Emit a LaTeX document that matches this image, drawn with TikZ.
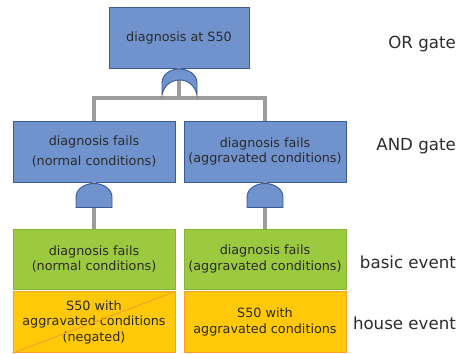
\documentclass[tikz,border=0pt]{standalone}
\usepackage{fontspec}
\setmainfont{DejaVu Sans}
\usetikzlibrary{calc}
\definecolor{blau}{HTML}{7093CD}
\definecolor{blaud}{HTML}{3A5A9C}
\definecolor{gruen}{HTML}{9BC93F}
\definecolor{gruend}{HTML}{86B236}
\definecolor{gelb}{HTML}{FFC90A}
\definecolor{gelbd}{HTML}{F5A02C}
\definecolor{grau}{HTML}{9C9C9C}
\definecolor{schrift}{HTML}{2B2B2B}
\tikzset{
  box/.style={line width=0.8pt,minimum width=4.86cm,minimum height=1.83cm,inner sep=0pt,align=center,text=schrift,font=\fontsize{10.9}{13.4}\selectfont},
  gatter/.style={box,fill=blau,draw=blaud},
  basis/.style={box,fill=gruen,draw=gruend},
  haus/.style={box,fill=gelb,draw=gelbd},
  tor/.style={fill=blau,draw=blaud,line width=0.8pt},
  leitung/.style={draw=grau,line width=3.2pt},
  lab/.style={anchor=east,text=schrift,font=\fontsize{14.2}{17}\selectfont},
}

\begin{document}
\begin{tikzpicture}[x=0.03cm,y=-0.03cm]
  \useasboundingbox (0,0) rectangle (465,353);
  % boxes
  \node[gatter,minimum width=4.2cm] (top) at (179,37.5) {diagnosis at S50};
  \node[gatter] (andl) at (94,151.5) {diagnosis fails\\[3.7pt](normal conditions)};
  \node[gatter] (andr) at (265,151.5) {diagnosis fails\\(aggravated conditions)};
  \node[basis,minimum height=1.8cm] (basl) at (94,259) {diagnosis fails\\(normal conditions)};
  \node[basis,minimum height=1.8cm] (basr) at (265,259) {diagnosis fails\\(aggravated conditions)};
  \node[haus] (hausl) at (94,322.3) {S50 with\\aggravated conditions\\(negated)};
  \node[haus] (hausr) at (265,322.3) {S50 with\\aggravated conditions};
  \draw[gelbd,line width=0.8pt] (hausl.south west) -- (hausl.north east);
  % connectors
  \coordinate (bus) at (179,98);
  \draw[leitung] (top.south) -- (bus);
  \draw[leitung] (andl.north) |- (bus) -| (andr.north);
  \draw[leitung] (andl.south) -- (basl.north);
  \draw[leitung] (andr.south) -- (basr.north);
  % gates
  \draw[tor,shift={(179,95)}] (-17,0) -- (-17,-12) to[out=90,in=180] (0,-26) to[out=0,in=90] (18,-12) -- (18,0) .. controls (14,-20) and (-13,-20) .. cycle;
  \foreach \n in {andl,andr}
    \draw[tor,shift={($(\n.south)+(0,25)$)}] (-18,0) -- (-18,-10) to[out=90,in=180] (0,-24) to[out=0,in=90] (18,-10) -- (18,0) -- cycle;
  % labels
  \node[lab] (l1) at (460,44) {OR gate};
  \node[lab] (l2) at (460,146) {AND gate};
  \node[lab] (l3) at (460,262) {basic event};
  \node[lab] (l4) at (460,323) {house event};
\end{tikzpicture}
\end{document}
